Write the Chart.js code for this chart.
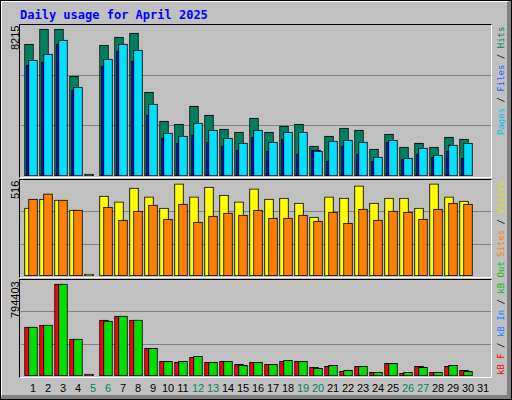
<!DOCTYPE html>
<html>
<head>
<meta charset="utf-8">
<script src="https://cdn.jsdelivr.net/npm/chart.js@4"></script>
<style>
  body { margin: 0; width: 512px; height: 400px; overflow: hidden; }
  #frame { position: absolute; left: 0; top: 0; width: 505px; height: 393px; background: #c0c0c0;
    border-top: 2px solid #fff; border-left: 2px solid #fff; border-right: 5px solid #808080; border-bottom: 5px solid #808080;
    box-sizing: content-box; }
  #outer { position: absolute; left: 0; top: 0; width: 510px; height: 398px; border: 1px solid #000; pointer-events: none; }
  .panel { position: absolute; left: 19px; width: 471px; border-top: 1px solid #000; border-left: 1px solid #000;
    border-right: 1px solid #fff; border-bottom: 1px solid #fff; }
  canvas { position: absolute; }
  #title { position: absolute; left: 20px; top: 8px; font: bold 12px "DejaVu Sans Mono", monospace; color: #0000ff; }
  .vl { position: absolute; writing-mode: vertical-rl; transform: rotate(180deg); text-align: end; white-space: nowrap; }
  .left { font: 11px "Liberation Sans", sans-serif; color: #000; left: 9px; width: 12px; }
  .right { font: 9px "DejaVu Sans Mono", monospace; left: 496px; width: 11px; }
  .day { position: absolute; top: 382px; width: 16px; text-align: center; font: 11px "Liberation Sans", sans-serif; }
</style>
</head>
<body>
<div id="frame"></div>
<div id="outer"></div>
<div id="title">Daily usage for April 2025</div>
<div class="panel" style="top:24px;height:152px"></div>
<div class="panel" style="top:179px;height:97px"></div>
<div class="panel" style="top:279px;height:97px"></div>
<canvas id="c1" style="left:21px;top:25px" width="470" height="151"></canvas>
<canvas id="c2" style="left:21px;top:180px" width="470" height="96"></canvas>
<canvas id="c3" style="left:21px;top:280px" width="470" height="96"></canvas>
<div class="vl left" style="top:26px;height:40px">8215</div>
<div class="vl left" style="top:181px;height:30px">516</div>
<div class="vl left" style="top:281px;height:50px">794403</div>
<div class="vl right" style="top:27px;height:140px"><span style="color:#00c0e0">Pages</span> / <span style="color:#2060ff">Files</span> / <span style="color:#008060">Hits</span></div>
<div class="vl right" style="top:181px;height:94px"><span style="color:#ff8000">Sites</span> / <span style="color:#e0e000">Visits</span></div>
<div class="vl right" style="top:281px;height:94px"><span style="color:#ff0000">kB F</span> / <span style="color:#2080ff">kB In</span> / <span style="color:#00c000">kB Out</span></div>
<div id="days"></div>
<script>
const days = Array.from({length: 31}, (_, i) => i + 1);
const weekendDays = [5, 6, 12, 13, 19, 20, 26, 27];

const hits  = [7377, 8215, 8215, 5588, 0, 7321, 7768, 7991, 4694, 3074, 2906, 3912, 3409, 2627, 2459, 3241, 2459, 2794, 2906, 1677, 2235, 2682, 2571, 1509, 2347, 1621, 1844, 1621, 2180, 2068, null];
const files = [6203, 6371, 7377, 4806, 0, 6147, 6986, 6427, 3409, 2124, 1844, 2291, 1900, 1677, 1453, 2180, 1397, 2068, 1229, 1453, 838, 1677, 1229, 838, 1900, 950, 1229, 1062, 1397, 1006, null];
const pages = [6483, 6818, 7600, 4974, 0, 6539, 7377, 7041, 4024, 2403, 2235, 2962, 2571, 2124, 1844, 2571, 1900, 2459, 2459, 1397, 1956, 2012, 1900, 1062, 2012, 1006, 1565, 1174, 1732, 1844, null];

const visits = [381, 431, 426, 370, 0, 448, 415, 493, 443, 381, 516, 443, 499, 454, 415, 488, 431, 437, 409, 330, 443, 437, 505, 409, 437, 437, 381, 516, 443, 420, null];
const sites  = [431, 460, 426, 370, 0, 386, 313, 364, 398, 319, 403, 302, 336, 353, 341, 370, 325, 325, 341, 308, 358, 296, 375, 313, 364, 358, 319, 375, 409, 403, null];

const kbF   = [421800, 439100, 794403, 317800, 0, 482500, 517100, 482500, 239800, 127100, 118400, 161800, 118400, 127100, 101100, 118400, 101100, 127100, 127100, 75100, 83800, 40400, 83800, 31800, 109800, 23100, 83800, 31800, 83800, 49100, null];
const kbOut = [421800, 439100, 794403, 317800, 0, 473800, 517100, 482500, 239800, 127100, 127100, 170500, 118400, 127100, 92400, 118400, 101100, 135800, 127100, 66400, 92400, 49100, 83800, 31800, 109800, 31800, 75100, 31800, 92400, 40400, null];

function pts(vals, shift) {
  return vals.map((v, i) => ({x: days[i] + shift, y: v}));
}
// order: lower number is drawn on top
function ds(vals, shift, color, order, minLen) {
  return {data: pts(vals, shift), backgroundColor: color, borderColor: '#000', borderWidth: 1, order: order,
    borderSkipped: false, barThickness: 9, grouped: false, minBarLength: minLen || 0};
}
function make(id, max, sets) {
  new Chart(document.getElementById(id), {
    type: 'bar',
    data: {datasets: sets},
    options: {
      responsive: false, animation: false, maintainAspectRatio: false,
      layout: {padding: 0},
      plugins: {legend: {display: false}, tooltip: {enabled: false}},
      scales: {
        x: {type: 'linear', min: 0.4667, max: 31.8, offset: false, display: false},
        y: {min: 0, max: max, border: {display: false},
          ticks: {display: false},
          afterBuildTicks: ax => { ax.ticks = [{value: max / 3}, {value: 2 * max / 3}]; },
          grid: {color: '#808080', lineWidth: 1, drawTicks: false}}
      }
    }
  });
}

make('c1', 8438, [ds(hits, 0, '#008060', 3, 2), ds(files, 0.133, '#0000ff', 2), ds(pages, 0.267, '#00e0ff', 1)]);
make('c2', 538, [ds(visits, 0, '#ffff00', 2, 2), ds(sites, 0.267, '#ff8000', 1)]);
make('c3', 828950, [ds(kbF, 0, '#ff0000', 2, 2), ds(kbOut, 0.267, '#00e000', 1)]);

const daysDiv = document.getElementById('days');
days.forEach(d => {
  const el = document.createElement('div');
  el.className = 'day';
  el.textContent = d;
  el.style.left = (25 + 15 * (d - 1)) + 'px';
  el.style.color = weekendDays.includes(d) ? '#008060' : '#000';
  daysDiv.appendChild(el);
});
</script>
</body>
</html>
